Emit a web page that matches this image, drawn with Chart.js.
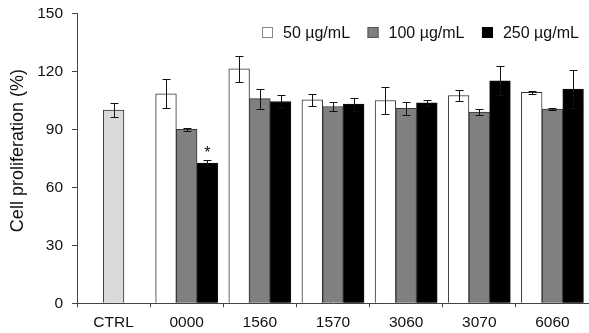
<!DOCTYPE html>
<html>
<head>
<meta charset="utf-8">
<script src="https://cdn.jsdelivr.net/npm/chart.js@4/dist/chart.umd.min.js"></script>
<style>
html,body{margin:0;padding:0;background:#fff;}
#wrap{width:589px;height:333px;position:relative;}
</style>
</head>
<body>
<div id="wrap"><canvas id="c" width="589" height="333"></canvas></div>
<script>
const categories = ['CTRL','0000','1560','1570','3060','3070','6060'];
const ctrlValues = [100, null, null, null, null, null, null];
const ctrlErrors = [3.4, null, null, null, null, null, null];
const values50  = [null, 108.4, 121.3, 105.2, 104.9, 107.5, 109.1];
const errors50  = [null, 7.6, 6.8, 3.0, 6.8, 2.8, 0.6];
const values100 = [null, 90.0, 105.9, 101.8, 100.8, 98.9, 100.4];
const errors100 = [null, 0.7, 5.2, 2.4, 3.2, 1.7, 0.4];
const values250 = [null, 72.5, 104.4, 103.0, 103.7, 115.1, 110.8];
const errors250 = [null, 1.5, 3.6, 3.3, 1.4, 7.4, 9.8];
const seriesLabels = ['50 µg/mL', '100 µg/mL', '250 µg/mL'];
const yTicks = [0, 30, 60, 90, 120, 150];
const yTitle = 'Cell proliferation (%)';
const significance = [{dataset: 3, index: 1, text: '*'}];

const FONT = "'Liberation Sans', Arial, sans-serif";
const errorsByDataset = [ctrlErrors, errors50, errors100, errors250];
const legendBorders = ['#333', '#888', '#555', '#000'];

const errorBarPlugin = {
  id: 'errorBars',
  afterDatasetsDraw(chart) {
    const ctx = chart.ctx;
    const yScale = chart.scales.y;
    ctx.save();
    ctx.strokeStyle = '#111';
    ctx.lineWidth = 1;
    chart.data.datasets.forEach((ds, di) => {
      const meta = chart.getDatasetMeta(di);
      const errs = errorsByDataset[di];
      meta.data.forEach((el, i) => {
        const v = ds.data[i];
        const e = errs[i];
        if (v == null || e == null) return;
        const x = Math.round(el.x) + 0.5;
        const yt = Math.round(yScale.getPixelForValue(v + e)) + 0.5;
        const yb = Math.round(yScale.getPixelForValue(v - e)) + 0.5;
        const cap = 4;
        ctx.beginPath();
        ctx.moveTo(x, yt); ctx.lineTo(x, yb);
        ctx.moveTo(x - cap, yt); ctx.lineTo(x + cap, yt);
        ctx.moveTo(x - cap, yb); ctx.lineTo(x + cap, yb);
        ctx.stroke();
      });
    });
    ctx.fillStyle = '#111';
    ctx.font = '16px ' + FONT;
    ctx.textAlign = 'center';
    ctx.textBaseline = 'alphabetic';
    significance.forEach(s => {
      const el = chart.getDatasetMeta(s.dataset).data[s.index];
      const ds = chart.data.datasets[s.dataset];
      const top = ds.data[s.index] + errorsByDataset[s.dataset][s.index];
      const y = yScale.getPixelForValue(top);
      ctx.fillText(s.text, el.x, y - 2.5);
    });
    ctx.restore();
  }
};

const legendPlugin = {
  id: 'customLegend',
  afterDraw(chart) {
    const ctx = chart.ctx;
    const area = chart.chartArea;
    ctx.save();
    ctx.font = '16px ' + FONT;
    ctx.textBaseline = 'middle';
    ctx.textAlign = 'left';
    let x = area.left + 185;
    const cy = area.top + 19;
    const box = 11;
    for (let di = 1; di < chart.data.datasets.length; di++) {
      const ds = chart.data.datasets[di];
      ctx.fillStyle = ds.backgroundColor;
      ctx.fillRect(x, Math.round(cy - box / 2), box, box);
      ctx.strokeStyle = legendBorders[di];
      ctx.lineWidth = 1;
      ctx.strokeRect(x + 0.5, Math.round(cy - box / 2) + 0.5, box - 1, box - 1);
      ctx.fillStyle = '#111';
      const tx = x + 21;
      ctx.fillText(ds.label, tx, cy + 1);
      x = tx + ctx.measureText(ds.label).width + 17.5;
    }
    ctx.restore();
  }
};

// y-axis title drawn centred slightly above the plot's mid-height, as in the reference
const yTitlePlugin = {
  id: 'yTitle',
  afterDraw(chart) {
    const ctx = chart.ctx;
    const area = chart.chartArea;
    ctx.save();
    ctx.font = '18px ' + FONT;
    ctx.fillStyle = '#111';
    ctx.textAlign = 'center';
    ctx.textBaseline = 'middle';
    ctx.translate(18.5, (area.top + area.bottom) / 2 - 7.7);
    ctx.rotate(-Math.PI / 2);
    ctx.fillText(yTitle, 0, 0);
    ctx.restore();
  }
};

new Chart(document.getElementById('c'), {
  type: 'bar',
  data: {
    labels: categories,
    datasets: [
      {label: 'CTRL', data: ctrlValues, backgroundColor: '#d9d9d9', borderColor: '#333', borderWidth: 1},
      {label: seriesLabels[0], data: values50, backgroundColor: '#ffffff', borderColor: '#333', borderWidth: 1},
      {label: seriesLabels[1], data: values100, backgroundColor: '#808080', borderColor: '#333', borderWidth: 1},
      {label: seriesLabels[2], data: values250, backgroundColor: '#000000', borderColor: '#111', borderWidth: 1}
    ]
  },
  options: {
    responsive: false,
    animation: false,
    devicePixelRatio: 1,
    layout: {padding: {left: 0, right: 0, top: 13.3, bottom: 0}},
    datasets: {bar: {skipNull: true, barThickness: 20.7}},
    plugins: {
      tooltip: {enabled: false},
      legend: {display: false}
    },
    scales: {
      x: {
        afterFit: axis => { axis.height = 29.7; axis.paddingLeft = 0; axis.paddingRight = 0; },
        grid: {display: true, drawOnChartArea: false, drawTicks: true, tickLength: 4, color: '#444', offset: true},
        border: {display: true, color: '#444', width: 1},
        ticks: {font: {family: FONT, size: 15.5}, color: '#111', padding: 6, maxRotation: 0}
      },
      y: {
        min: 0, max: 150,
        afterFit: axis => { axis.width = 77; axis.paddingTop = 0; axis.paddingBottom = 0; },
        afterBuildTicks: axis => { axis.ticks = yTicks.map(v => ({value: v})); },
        grid: {display: true, drawOnChartArea: false, drawTicks: true, tickLength: 5, color: '#444'},
        border: {display: true, color: '#444', width: 1},
        ticks: {font: {family: FONT, size: 15.5}, color: '#111', padding: 9}
      }
    }
  },
  plugins: [errorBarPlugin, legendPlugin, yTitlePlugin]
});
</script>
</body>
</html>
